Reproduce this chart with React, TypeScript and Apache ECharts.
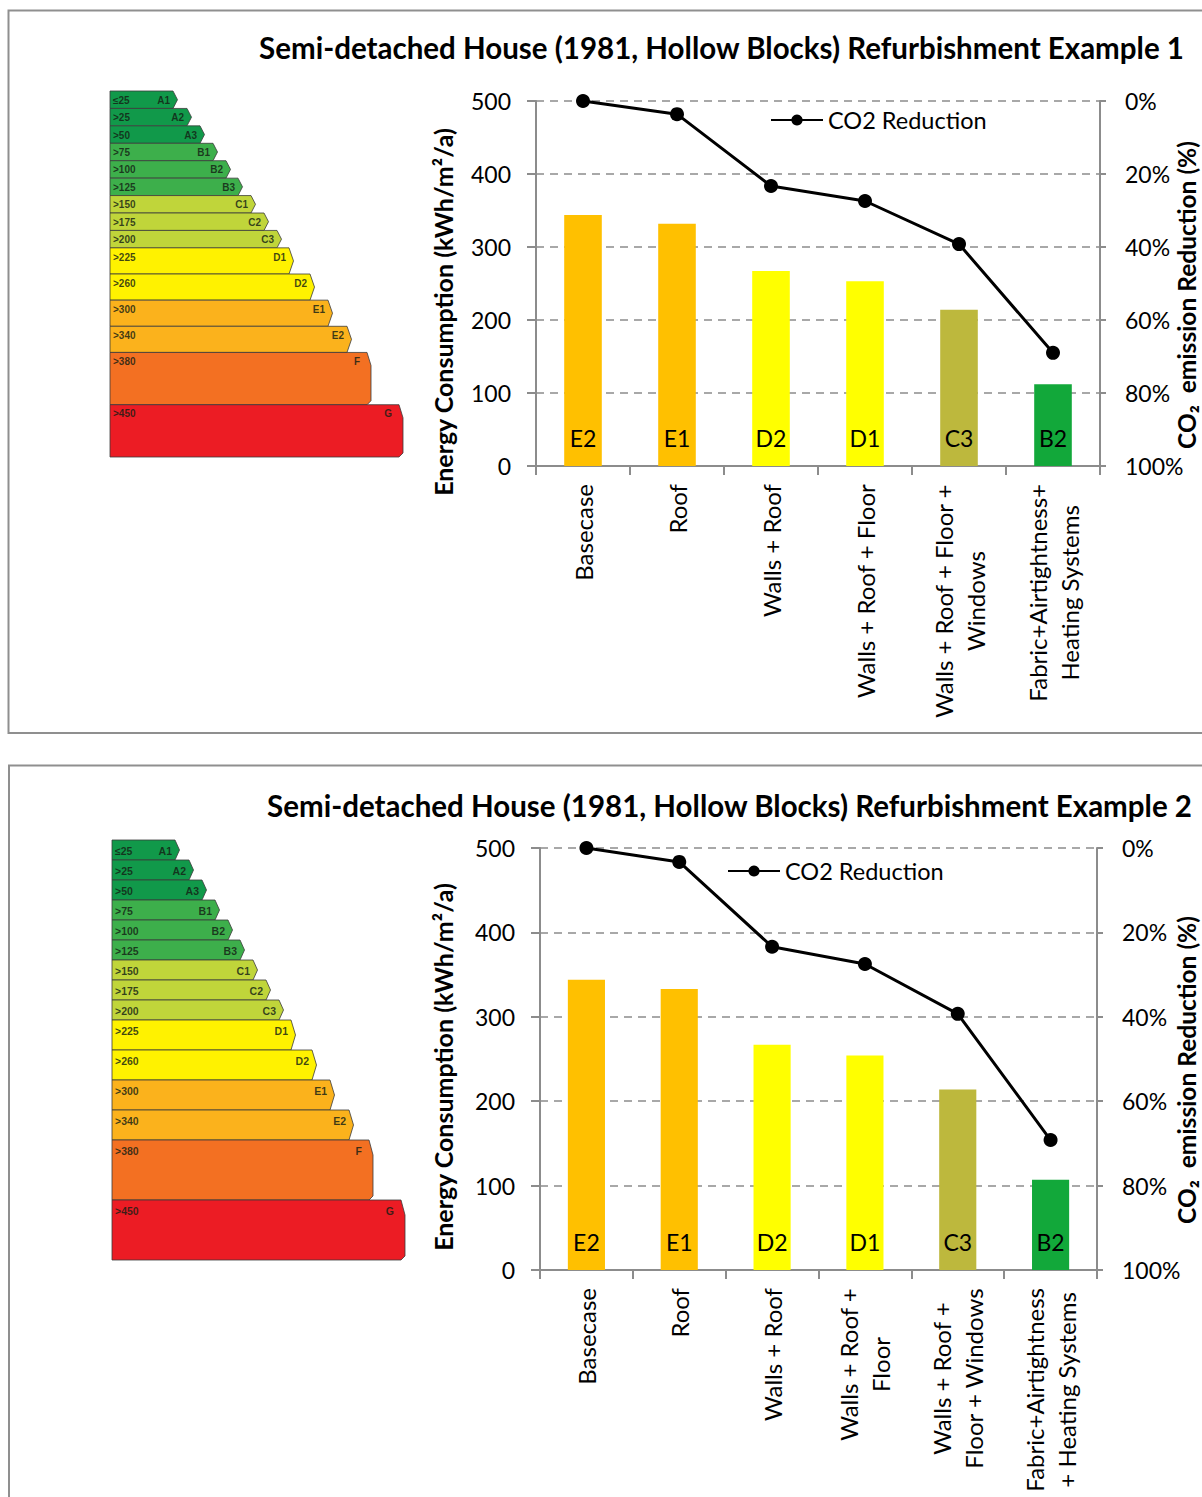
import React, { useEffect, useRef } from 'react';
import * as echarts from 'echarts';

// ---------- data ----------
const categories1 = [
  'Basecase',
  'Roof',
  'Walls + Roof',
  'Walls + Roof + Floor',
  'Walls + Roof + Floor +\nWindows',
  'Fabric+Airtightness+\nHeating Systems',
];
const categories2 = [
  'Basecase',
  'Roof',
  'Walls + Roof',
  'Walls + Roof +\nFloor',
  'Walls + Roof +\nFloor + Windows',
  'Fabric+Airtightness\n+ Heating Systems',
];
const grades = ['E2', 'E1', 'D2', 'D1', 'C3', 'B2'];
const energy1 = [344, 332, 267, 253, 214, 112];
const energy2 = [344, 333, 267, 254, 214, 107];
const co2Reduction1 = [0, 3.6, 23.3, 27.4, 39.2, 69.0];
const co2Reduction2 = [0, 3.3, 23.4, 27.5, 39.3, 69.2];
const energyTicks = [0, 100, 200, 300, 400, 500];
const percentTicks = [0, 20, 40, 60, 80, 100];

const titles = [
  'Semi-detached House (1981, Hollow Blocks) Refurbishment Example 1',
  'Semi-detached House (1981, Hollow Blocks) Refurbishment Example 2',
];
const leftAxisName = 'Energy Consumption (kWh/m²/a)';
const rightAxisName = 'CO₂  emission Reduction (%)';

const gradeColors: Record<string, string> = {
  E2: '#FFC000',
  E1: '#FFC000',
  D2: '#FFFF00',
  D1: '#FFFF00',
  C3: '#BDB83D',
  B2: '#12A83A',
};

// energy label ladder (illustration)
const ladderCodes = ['A1', 'A2', 'A3', 'B1', 'B2', 'B3', 'C1', 'C2', 'C3', 'D1', 'D2', 'E1', 'E2', 'F', 'G'];
const ladderLimits = ['≤25', '>25', '>50', '>75', '>100', '>125', '>150', '>175', '>200', '>225', '>260', '>300', '>340', '>380', '>450'];
const ladderColors = [
  '#11994a', '#11994a', '#11994a',
  '#3daf4b', '#3daf4b', '#3daf4b',
  '#c0d53a', '#c0d53a', '#c0d53a',
  '#fff200', '#fff200',
  '#fbb21c', '#fbb21c',
  '#f37022',
  '#ec1c24',
];
const ladderRowWeights = [1, 1, 1, 1, 1, 1, 1, 1, 1, 1.5, 1.5, 1.5, 1.5, 3, 3];
const ladderLengths = [63, 77, 90, 103, 116, 128, 141, 154, 167, 179, 200, 218, 237, 257, 289];

const FONT = 'Lato, "Open Sans", sans-serif';
const AXIS_GREY = '#8c8c8c';

function buildLadder(x0: number, y0: number, totalH: number, fontSize: number) {
  const totalUnits = ladderRowWeights.reduce((a, b) => a + b, 0);
  const unit = totalH / totalUnits;
  const els: any[] = [];
  let cum = 0;
  ladderCodes.forEach((code, i) => {
    const top = y0 + cum * unit;
    const h = ladderRowWeights[i] * unit;
    const w = ladderLengths[i];
    const tip = i >= 13 ? 4 : 4.5;
    cum += ladderRowWeights[i];
    els.push({
      type: 'polygon',
      shape: {
        points: [
          [x0, top],
          [x0 + w, top],
          [x0 + w + tip, top + Math.min(h, unit * 1.5) / 2],
          [x0 + w + tip, i >= 13 ? top + h - 4 : top + Math.min(h, unit * 1.5) / 2],
          [x0 + w, top + h],
          [x0, top + h],
        ],
      },
      style: { fill: ladderColors[i], stroke: '#3b3b3b', lineWidth: 0.8 },
      z: 1,
    });
    const ty = top + unit * 0.5 + 0.5;
    const common = {
      fill: 'rgba(20,30,20,0.82)',
      fontSize,
      fontWeight: 'bold',
      fontFamily: '"Liberation Sans", Arial, sans-serif',
      verticalAlign: 'middle',
      textVerticalAlign: 'middle',
    };
    els.push({
      type: 'text',
      x: x0 + 3,
      y: ty,
      style: { ...common, text: ladderLimits[i], align: 'left', textAlign: 'left' },
      z: 2,
    });
    els.push({
      type: 'text',
      x: x0 + w - (i >= 13 ? 7 : 3),
      y: ty,
      style: { ...common, text: code, align: 'right', textAlign: 'right' },
      z: 2,
    });
  });
  return els;
}

function centeredText(text: string, x: number, y: number, fontSize: number, rotation = 0) {
  return {
    type: 'text',
    x,
    y,
    rotation,
    style: {
      text,
      fill: '#000',
      fontSize,
      fontWeight: 'bold',
      fontFamily: FONT,
      align: 'center',
      verticalAlign: 'middle',
      textAlign: 'center',
      textVerticalAlign: 'middle',
    },
  };
}

function categoryAxis(gridIndex: number, data: string[]) {
  return {
    gridIndex,
    type: 'category',
    data,
    axisLine: { show: true, lineStyle: { color: AXIS_GREY, width: 2 } },
    axisTick: { show: true, length: 9, interval: 0, lineStyle: { color: AXIS_GREY, width: 2 } },
    splitLine: { show: false },
    axisLabel: {
      interval: 0,
      rotate: 90,
      margin: 18,
      color: '#000',
      fontSize: 24,
      fontFamily: FONT,
      formatter: (v: string) => v.split('\n').map((l) => `{c|${l}}`).join('\n'),
      rich: { c: { fontSize: 24, fontFamily: FONT, color: '#000', lineHeight: 32, align: 'center' } },
    },
  };
}

function energyAxis(gridIndex: number) {
  return {
    gridIndex,
    type: 'value',
    min: energyTicks[0],
    max: energyTicks[energyTicks.length - 1],
    interval: energyTicks[1] - energyTicks[0],
    axisLine: { show: true, lineStyle: { color: AXIS_GREY, width: 2 } },
    axisTick: { show: true, length: 9, lineStyle: { color: AXIS_GREY, width: 2 } },
    axisLabel: { margin: 25, fontSize: 23, fontFamily: FONT, color: '#000' },
    splitLine: { show: true, lineStyle: { color: AXIS_GREY, width: 1.5, type: [8, 6] } },
  };
}

function percentAxis(gridIndex: number) {
  return {
    gridIndex,
    type: 'value',
    position: 'right',
    inverse: true,
    min: percentTicks[0],
    max: percentTicks[percentTicks.length - 1],
    interval: percentTicks[1] - percentTicks[0],
    axisLine: { show: true, lineStyle: { color: AXIS_GREY, width: 2 } },
    axisTick: { show: true, length: 6, lineStyle: { color: AXIS_GREY, width: 2 } },
    axisLabel: { margin: 25, fontSize: 23, fontFamily: FONT, color: '#000', formatter: '{value}%' },
    splitLine: { show: false },
  };
}

function barSeries(idx: number, values: number[]) {
  return {
    type: 'bar',
    name: 'Energy',
    xAxisIndex: idx,
    yAxisIndex: idx * 2,
    barWidth: '40%',
    data: values.map((v, i) => ({ value: v, itemStyle: { color: gradeColors[grades[i]] } })),
    label: {
      show: true,
      position: 'insideBottom',
      distance: 17,
      formatter: (p: any) => grades[p.dataIndex],
      fontSize: 23,
      fontFamily: FONT,
      color: '#000',
    },
    z: 2,
  };
}

function lineSeries(idx: number, values: number[]) {
  return {
    type: 'line',
    name: 'CO2 Reduction',
    xAxisIndex: idx,
    yAxisIndex: idx * 2 + 1,
    data: values,
    symbol: 'circle',
    symbolSize: 14,
    showSymbol: true,
    lineStyle: { color: '#000', width: 3 },
    itemStyle: { color: '#000' },
    z: 5,
  };
}

function legendAt(left: number, top: number) {
  return {
    data: ['CO2 Reduction'],
    left,
    top,
    padding: 0,
    itemWidth: 52,
    itemHeight: 14,
    selectedMode: false,
    textStyle: { fontSize: 23.5, fontFamily: FONT, color: '#000', lineHeight: 24 },
  };
}

export default function App() {
  const ref = useRef<HTMLDivElement>(null);

  useEffect(() => {
    if (!ref.current) return;
    const chart = echarts.init(ref.current, undefined, { renderer: 'svg' });
    const option: any = {
      animation: false,
      backgroundColor: '#fff',
      textStyle: { fontFamily: FONT },
      grid: [
        { left: 536, top: 101, width: 564, height: 365, containLabel: false, outerBoundsMode: 'none' },
        { left: 540, top: 848, width: 557, height: 422, containLabel: false, outerBoundsMode: 'none' },
      ],
      legend: [legendAt(770, 108), legendAt(727, 859)],
      xAxis: [categoryAxis(0, categories1), categoryAxis(1, categories2)],
      yAxis: [energyAxis(0), percentAxis(0), energyAxis(1), percentAxis(1)],
      series: [
        barSeries(0, energy1),
        lineSeries(0, co2Reduction1),
        barSeries(1, energy2),
        lineSeries(1, co2Reduction2),
      ],
      graphic: [
        {
          type: 'rect',
          shape: { x: 8.5, y: 10.5, width: 1260, height: 722.5 },
          style: { fill: 'none', stroke: '#8f8f8f', lineWidth: 2 },
          silent: true,
        },
        {
          type: 'rect',
          shape: { x: 9, y: 765.5, width: 1260, height: 800 },
          style: { fill: 'none', stroke: '#8f8f8f', lineWidth: 2 },
          silent: true,
        },
        centeredText(titles[0], 721.5, 47, 29.5),
        centeredText(titles[1], 729.5, 805, 29.5),
        centeredText(leftAxisName, 443, 312, 25, Math.PI / 2),
        centeredText(leftAxisName, 443, 1067, 25, Math.PI / 2),
        centeredText(rightAxisName, 1186, 295, 24.5, Math.PI / 2),
        centeredText(rightAxisName, 1186, 1070, 24.5, Math.PI / 2),
        ...buildLadder(110, 91, 366, 10),
        ...buildLadder(112, 840, 420, 10.5),
      ],
    };
    chart.setOption(option);
    return () => chart.dispose();
  }, []);

  return (
    <div
      ref={ref}
      style={{ position: 'fixed', left: 0, top: 0, width: 1202, height: 1497, background: '#fff' }}
    />
  );
}
